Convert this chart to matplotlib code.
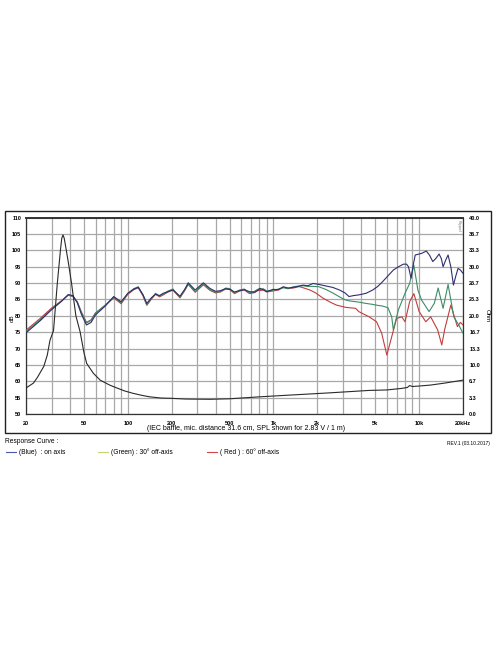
import matplotlib
matplotlib.use('Agg')
import matplotlib.pyplot as plt
from matplotlib.patches import Rectangle

plt.rcParams['font.family'] = ['Liberation Sans', 'DejaVu Sans']

# SPL curves, dB
freq_spl = [20, 25, 30, 35, 39, 42, 45, 48, 52, 56, 60, 70, 80, 90, 100, 110, 118, 127,
            135, 145, 155, 165, 175, 189, 204, 228, 245, 260, 290, 330, 366, 400, 432,
            470, 502, 540, 585, 630, 684, 740, 785, 805, 850, 899, 992, 1080, 1167, 1260,
            1367, 1480]
spl_blue_low = [74.8, 78.5, 81.9, 84.4, 86.5, 86.2, 84.0, 80.5, 77.2, 78.0, 80.3, 83.0,
                85.9, 84.3, 86.9, 88.2, 88.7, 86.5, 83.8, 85.5, 86.6, 86.2, 86.9, 87.4,
                87.9, 86.0, 88.0, 90.1, 87.9, 90.1, 88.4, 87.5, 87.7, 88.3, 88.1, 87.3,
                87.7, 88.0, 87.4, 87.2, 87.9, 88.4, 88.0, 87.4, 88.1, 88.0, 88.9, 88.5,
                88.7, 89.0]
spl_green_low = [75.2, 78.8, 82.1, 84.5, 86.4, 86.0, 84.2, 81.0, 77.8, 78.6, 80.8, 83.3,
                 85.7, 84.0, 86.8, 88.3, 88.9, 86.4, 83.5, 85.3, 86.9, 86.0, 86.6, 87.6,
                 88.2, 85.7, 87.8, 89.8, 87.4, 89.7, 88.0, 87.2, 87.4, 88.5, 88.3, 87.0,
                 87.9, 88.2, 87.0, 87.5, 88.2, 88.0, 88.3, 87.6, 87.8, 88.2, 88.6, 88.3,
                 88.9, 89.1]
spl_red_low = [75.6, 79.2, 82.4, 84.6, 86.3, 85.9, 84.3, 81.2, 78.0, 78.8, 80.9, 83.2,
               85.5, 83.7, 86.6, 88.0, 88.6, 86.1, 83.2, 85.1, 86.6, 85.8, 86.4, 87.3,
               87.9, 85.5, 87.6, 89.6, 87.2, 89.5, 87.8, 87.0, 87.3, 88.2, 88.0, 86.8,
               87.6, 87.9, 86.8, 87.1, 87.8, 87.7, 87.9, 87.3, 87.6, 87.9, 88.7, 88.4,
               88.5, 88.9]

freq_blue_high = [1596, 1720, 1869, 2050, 2307, 2550, 2840, 3100, 3300, 3550, 3850, 4320,
                  4800, 5200, 5600, 6100, 6650, 7200, 7800, 8200, 8450, 8800, 9100, 9400,
                  10000, 10400, 11200, 11800, 12400, 13000, 13700, 14200, 14600, 15200,
                  15800, 16500, 17200, 17800, 18500, 19200, 20000]
spl_blue_high = [89.4, 89.2, 89.9, 89.6, 89.1, 88.7, 87.9, 87.0, 85.9, 86.2, 86.4, 86.9,
                 87.9, 89.0, 90.4, 92.2, 94.0, 95.0, 95.8, 95.8, 95.0, 91.5, 95.5, 98.6,
                 98.9, 99.1, 99.8, 98.5, 96.6, 97.5, 98.9, 97.5, 95.0, 97.0, 98.6, 95.0,
                 89.4, 92.0, 94.5, 94.0, 93.0]

freq_green_high = [1596, 1720, 1869, 2050, 2307, 2550, 2840, 3100, 3300, 3550, 3850, 4320,
                   4800, 5200, 5600, 6100, 6480, 6650, 7200, 8000, 8600, 9200, 9800, 10400,
                   11700, 12700, 13500, 14600, 15800, 17300, 18700, 20000]
spl_green_high = [89.2, 89.0, 89.0, 88.9, 88.0, 87.0, 85.8, 84.9, 84.6, 84.4, 84.2, 83.8,
                  83.5, 83.2, 83.0, 82.5, 79.7, 75.7, 81.8, 86.9, 89.9, 95.5, 87.9, 84.8,
                  81.3, 83.8, 88.5, 82.3, 89.6, 79.7, 77.2, 74.7]

freq_red_high = [1520, 1780, 1950, 2190, 2450, 2700, 3130, 3660, 3850, 4540, 5100, 5530,
                 6000, 6480, 7000, 7600, 8000, 8600, 9200, 10000, 11100, 12000, 13400,
                 14300, 15000, 16500, 18300, 19200, 20000]
spl_red_high = [88.9, 87.9, 87.0, 85.4, 84.2, 83.3, 82.6, 82.3, 81.3, 79.7, 78.2, 74.7,
                68.0, 73.6, 79.2, 79.7, 78.2, 84.3, 86.8, 81.3, 78.2, 79.7, 75.7, 71.1,
                76.0, 83.3, 76.7, 78.0, 77.2]

# impedance, Ohm
freq_imp = [20, 22.5, 24, 26.5, 28, 29.2, 30.9, 32.8, 34.5, 35.2, 35.9, 36.6, 37.5, 39,
            41.1, 44, 47, 50, 52.2, 58, 64.6, 75, 84.2, 95, 109, 125, 141, 170, 195, 250,
            367, 500, 804, 1200, 1700, 2400, 3500, 4500, 6000, 7500, 8300, 8600, 9000,
            10000, 12000, 15000, 20000]
imp_ohm = [5.3, 6.3, 7.5, 9.7, 12.0, 15.0, 17.0, 26.6, 33.5, 35.8, 36.5, 35.8, 34.0, 31.0,
           26.6, 20.0, 16.8, 12.5, 10.3, 8.3, 6.9, 5.9, 5.3, 4.7, 4.2, 3.8, 3.5, 3.25, 3.2,
           3.05, 3.0, 3.1, 3.5, 3.8, 4.05, 4.3, 4.6, 4.8, 4.9, 5.2, 5.4, 5.8, 5.6, 5.7, 5.9,
           6.3, 6.9]

xticks = [20, 50, 100, 200, 500, 1000, 2000, 5000, 10000, 20000]
xticklabels = ['20', '50', '100', '200', '500', '1k', '2k', '5k', '10k', '20kHz']
db_ticks = list(range(50, 111, 5))
ohm_ticks = [0, 3.333, 6.667, 10, 13.333, 16.667, 20, 23.333, 26.667, 30, 33.333, 36.667, 40]
ohm_labels = ['0.0', '3.3', '6.7', '10.0', '13.3', '16.7', '20.0', '23.3', '26.7', '30.0',
              '33.3', '36.7', '40.0']

c_blue = '#2e2f6e'
c_green = '#3d8c64'
c_red = '#c43c3c'
c_grid = '#a8a8a8'

fig = plt.figure(figsize=(4.96, 6.64), dpi=100)
ax = fig.add_axes([26/496, 250/664, 437/496, 196.3/664])
ax.set_xscale('log')
ax.set_xlim(20, 20000)
ax.set_ylim(50, 110)

# grid: 20..100, 100..1k, 1k..10k, 10k, 20k
vgrid = [m * d for d in (10, 100, 1000) for m in range(2, 10)] + [100, 1000, 10000, 20000]
for v in vgrid:
    ax.axvline(v, color=c_grid, lw=0.9, zorder=0)
for h in db_ticks:
    ax.axhline(h, color=c_grid, lw=0.9, zorder=0)

ax.plot(freq_spl + freq_red_high, spl_red_low + spl_red_high, color=c_red, lw=0.8, zorder=3)
ax.plot(freq_spl + freq_green_high, spl_green_low + spl_green_high, color=c_green, lw=0.8, zorder=4)
ax.plot(freq_spl + freq_blue_high, spl_blue_low + spl_blue_high, color=c_blue, lw=0.8, zorder=5)

ax.set_xticks(xticks)
ax.set_xticklabels(xticklabels)
ax.xaxis.set_minor_locator(matplotlib.ticker.NullLocator())
ax.set_yticks(db_ticks)
ax.set_yticklabels([str(t) for t in db_ticks])
ax.tick_params(length=0, labelsize=4, pad=3.5)
ax.tick_params(axis='x', pad=5)
for lab in ax.get_xticklabels() + ax.get_yticklabels():
    lab.set_fontweight('bold')
for s in ax.spines.values():
    s.set_color('#333333')
    s.set_linewidth(0.9)
ax.spines['top'].set_linewidth(1.4)

ax2 = ax.twinx()
ax2.set_ylim(0, 40)
ax2.plot(freq_imp, imp_ohm, color='#2a2a2a', lw=0.8)
ax2.set_yticks(ohm_ticks)
ax2.set_yticklabels(ohm_labels)
ax2.tick_params(length=0, labelsize=4, pad=4.5)
for lab in ax2.get_yticklabels():
    lab.set_fontweight('bold')
for s in ax2.spines.values():
    s.set_visible(False)

fig.text(12/496, 1 - 318/664, 'dB', rotation=90, fontsize=4.5, ha='center', va='center')
fig.text(487/496, 1 - 316/664, 'Ohm', rotation=270, fontsize=4.5, ha='center', va='center')
fig.text(459/496, 1 - 226/664, 'Klippel', rotation=270, fontsize=2.8, color='#777777',
         ha='center', va='center')

fig.text(246/496, 1 - 428.5/664,
         '(IEC baffle, mic. distance 31.6 cm, SPL shown for 2.83 V / 1 m)',
         fontsize=5, ha='center', va='center')

# outer frame
fig.patches.append(Rectangle((5/496, 1 - 433/664), 486/496, 222/664, transform=fig.transFigure,
                             fill=False, ec='#222222', lw=1.0))

fig.text(5/496, 1 - 441.5/664, 'Response Curve :', fontsize=4.8, ha='left', va='center')
fig.text(490/496, 1 - 444/664, 'REV.1 (03.10.2017)', fontsize=3.5, ha='right', va='center')

legend_items = [(6, '#4a56a6', '(Blue)  : on axis'),
                (98, '#c9d272', '(Green) : 30\u00b0 off-axis'),
                (207, '#d24848', '( Red ) : 60\u00b0 off-axis')]
ly = 1 - 452.3/664
for x0, col, txt in legend_items:
    fig.add_artist(plt.Line2D([x0/496, (x0 + 10)/496], [ly, ly], transform=fig.transFigure,
                              color=col, lw=0.8))
    fig.text((x0 + 13)/496, ly, txt, fontsize=4.8, ha='left', va='center')

fig.savefig('out.png', dpi=100)
